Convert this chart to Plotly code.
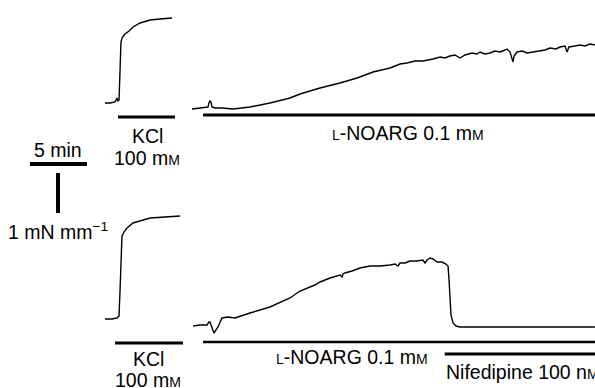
import plotly.graph_objects as go

# ---------------- data (time in min, tension in mN mm^-1) ----------------
top_kcl_t = [0.0, 0.44, 0.88, 1.05, 1.14, 1.23, 1.32, 1.40, 1.49, 1.75, 2.11, 2.46, 3.07, 3.95, 4.82, 5.88]
top_kcl_y = [0.125, 0.125, 0.15, 0.25, 0.175, 0.2, 0.95, 1.65, 1.75, 1.85, 1.925, 2.025, 2.125, 2.2, 2.225, 2.25]

top_noarg_t = [7.63, 8.33, 8.77, 9.04, 9.12, 9.21, 9.30, 9.39, 9.65, 10.26, 11.23, 12.72, 14.47, 16.23,
               17.11, 18.86, 20.61, 22.11, 23.51, 25.0, 25.88, 26.49, 27.19, 27.89, 28.77, 29.39, 29.82,
               30.26, 30.70, 31.14, 31.58, 32.19, 32.63, 32.89, 33.33, 33.77, 34.21, 34.65, 35.09, 35.26,
               35.53, 35.70, 35.79, 35.88, 36.14, 36.58, 37.02, 37.54, 38.16, 38.60, 39.04, 39.56, 39.91,
               40.35, 40.53, 40.70, 41.23, 41.67, 42.11, 42.54, 42.98]
top_noarg_y = [-0.025, 0.0, 0.0, 0.025, 0.125, 0.175, 0.15, 0.025, 0.0, 0.0, -0.025, 0.025, 0.125, 0.25,
               0.35, 0.5, 0.625, 0.75, 0.9, 1.0, 1.1, 1.125, 1.175, 1.175, 1.225, 1.275, 1.25,
               1.3, 1.325, 1.25, 1.325, 1.375, 1.35, 1.4, 1.35, 1.375, 1.425, 1.4, 1.45, 1.475,
               1.4, 1.25, 1.15, 1.3, 1.4, 1.425, 1.375, 1.4, 1.425, 1.45, 1.5, 1.475, 1.525,
               1.55, 1.4, 1.525, 1.55, 1.575, 1.55, 1.6, 1.575]

bot_kcl_t = [0.0, 0.61, 1.05, 1.23, 1.32, 1.40, 1.49, 1.67, 1.93, 2.46, 3.07, 3.95, 5.26, 6.58]
bot_kcl_y = [0.175, 0.175, 0.2, 0.25, 0.9, 1.9, 2.25, 2.35, 2.45, 2.575, 2.625, 2.7, 2.725, 2.75]

bot_noarg_t = [7.72, 8.33, 8.95, 9.12, 9.21, 9.30, 9.56, 9.91, 10.26, 10.79, 11.40, 12.72, 14.47, 16.23,
               17.11, 17.98, 18.42, 18.86, 19.74, 20.61, 20.79, 20.88, 21.05, 21.67, 22.37, 23.25, 24.12,
               25.0, 25.44, 25.70, 25.88, 26.32, 26.75, 27.37, 27.89, 28.07, 28.25, 28.51, 28.77, 29.12,
               29.56, 29.91, 30.09, 30.18, 30.26, 30.35, 30.53, 30.79, 31.14, 34.65, 39.04, 42.98]
bot_noarg_y = [0.0, 0.025, 0.025, 0.1, 0.1, 0.025, -0.175, -0.025, 0.2, 0.225, 0.2, 0.325, 0.475, 0.7,
               0.875, 0.975, 1.025, 1.1, 1.2, 1.275, 1.225, 1.3, 1.325, 1.375, 1.45, 1.5, 1.5,
               1.525, 1.55, 1.5, 1.575, 1.575, 1.625, 1.625, 1.65, 1.575, 1.65, 1.7, 1.675, 1.6,
               1.6, 1.55, 1.5, 1.15, 0.65, 0.275, 0.075, 0.0, -0.025, -0.025, -0.025, -0.025]

# drug application periods (min)
top_kcl_period = [1.14, 6.14]
top_noarg_period = [8.6, 44.0]
bot_kcl_period = [0.88, 6.84]
bot_noarg_period = [8.6, 44.0]
bot_nif_period = [29.8, 44.0]

scale_time = 5.0      # min
scale_tension = 1.0   # mN mm^-1

# ---------------- layout helpers ----------------
W, H = 595, 388
PX_PER_MIN = 11.4
PX_PER_UNIT = 40.0
X0_PX = 105          # pixel of t = 0
TOP_BASE_PX = 108    # pixel of tension 0 in top trace
BOT_BASE_PX = 326    # pixel of tension 0 in bottom trace

xrange_ = [-X0_PX / PX_PER_MIN, (W - X0_PX) / PX_PER_MIN]
y1range = [(TOP_BASE_PX - H) / PX_PER_UNIT, TOP_BASE_PX / PX_PER_UNIT]
y2range = [(BOT_BASE_PX - H) / PX_PER_UNIT, BOT_BASE_PX / PX_PER_UNIT]


def paper(xpx, ypx):
    return xpx / W, 1 - ypx / H


FONT = "Liberation Sans"
FS = 19.5
SC = "<span style='font-size:14px'>"

fig = go.Figure()
line = dict(color="black", width=1.4)
fig.add_trace(go.Scatter(x=top_kcl_t, y=top_kcl_y, mode="lines", line=line, yaxis="y"))
fig.add_trace(go.Scatter(x=top_noarg_t, y=top_noarg_y, mode="lines", line=line, yaxis="y"))
fig.add_trace(go.Scatter(x=bot_kcl_t, y=bot_kcl_y, mode="lines", line=line, yaxis="y2"))
fig.add_trace(go.Scatter(x=bot_noarg_t, y=bot_noarg_y, mode="lines", line=line, yaxis="y2"))

shapes = []


def hbar(period, yval, yref, width=3):
    shapes.append(dict(type="line", xref="x", yref=yref, x0=period[0], x1=period[1],
                       y0=yval, y1=yval, line=dict(color="black", width=width)))


hbar(top_kcl_period, -0.225, "y")
hbar(top_noarg_period, -0.175, "y")
hbar(bot_kcl_period, -0.425, "y2")
hbar(bot_noarg_period, -0.4, "y2", width=2.5)
hbar(bot_nif_period, -0.7, "y2")

# scale bars
sx0 = (30 - X0_PX) / PX_PER_MIN
shapes.append(dict(type="line", xref="x", yref="y", x0=sx0, x1=sx0 + scale_time,
                   y0=-1.4, y1=-1.4, line=dict(color="black", width=4)))
vx = (58 - X0_PX) / PX_PER_MIN
vy0 = (TOP_BASE_PX - 173) / PX_PER_UNIT
shapes.append(dict(type="line", xref="x", yref="y", x0=vx, x1=vx,
                   y0=vy0, y1=vy0 - scale_tension, line=dict(color="black", width=4)))

annotations = []


def label(text, xpx, ypx, anchor="center"):
    x, y = paper(xpx, ypx)
    annotations.append(dict(text=text, x=x, y=y, xref="paper", yref="paper", showarrow=False,
                            xanchor=anchor, yanchor="middle",
                            font=dict(family=FONT, size=FS, color="black")))


label("KCl", 147, 136)
label("100 m" + SC + "M</span>", 147, 158)
label(SC + "L</span>-NOARG 0.1 m" + SC + "M</span>", 408, 133)
label("5 min", 58, 150)
label("1 mN mm<sup>−1</sup>", 58, 231)
label("KCl", 148, 359)
label("100 m" + SC + "M</span>", 148, 380)
label(SC + "L</span>-NOARG 0.1 m" + SC + "M</span>", 352, 357)
label("Nifedipine 100 n" + SC + "M</span>", 444, 372, anchor="left")

fig.update_layout(
    width=W, height=H, margin=dict(l=0, r=0, t=0, b=0),
    paper_bgcolor="white", plot_bgcolor="white", showlegend=False,
    xaxis=dict(range=xrange_, visible=False, domain=[0, 1]),
    yaxis=dict(range=y1range, visible=False, domain=[0, 1]),
    yaxis2=dict(range=y2range, visible=False, overlaying="y"),
    shapes=shapes, annotations=annotations,
)

fig.write_html("out.html", config={"displayModeBar": False},
               post_script="document.body.style.margin='0';")
